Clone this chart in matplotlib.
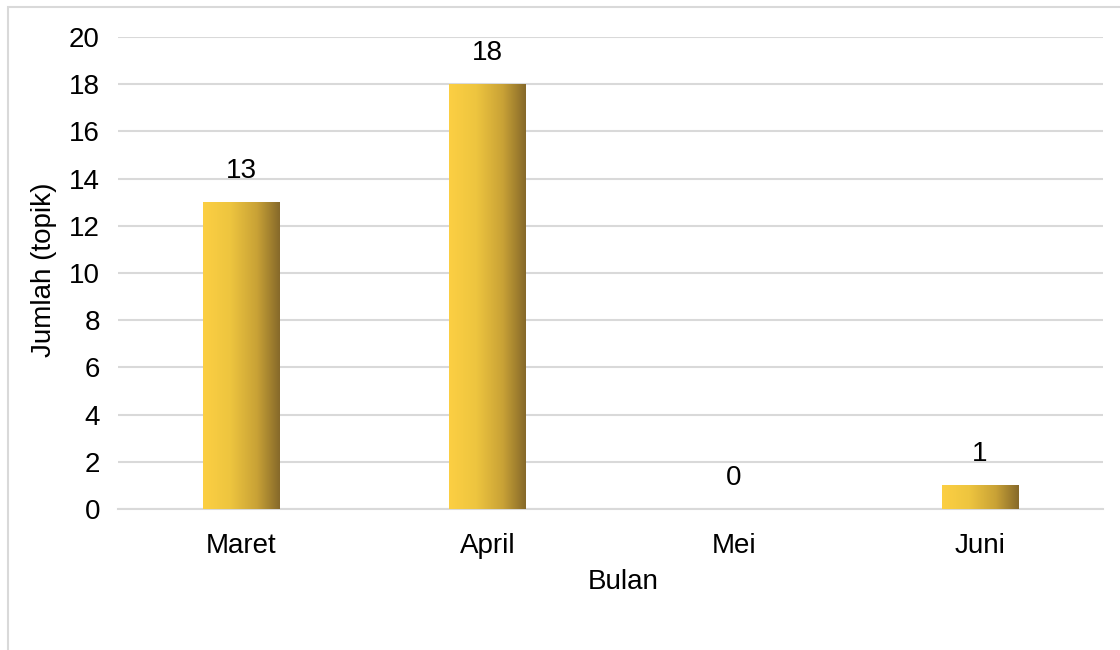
import numpy as np
import matplotlib.pyplot as plt
from matplotlib.colors import LinearSegmentedColormap
from matplotlib.patches import Rectangle

plt.rcParams['font.family'] = ['Liberation Sans', 'DejaVu Sans']

# data
bulan = ['Maret', 'April', 'Mei', 'Juni']
jumlah = [13, 18, 0, 1]
yticks = list(range(0, 21, 2))

fig = plt.figure(figsize=(11.2, 6.5), dpi=100)
ax = fig.add_axes([118 / 1120, 1 - 509 / 650, (1103 - 118) / 1120, (509 - 37) / 650])

# chart border (cut off at right and bottom like the original)
fig.patches.append(Rectangle((8 / 1120, -0.1), 2, 1 - 7 / 650 + 0.1,
                             transform=fig.transFigure, fill=False,
                             edgecolor='#D9D9D9', lw=1.5, zorder=0))

x = np.arange(len(bulan))
bars = ax.bar(x, jumlah, width=0.31, color='none', edgecolor='none', zorder=3)

# horizontal gold gradient on each bar
grad = LinearSegmentedColormap.from_list(
    'gold', [(0, '#FCCF43'), (0.35, '#EEC53F'), (0.7, '#C9A236'), (1, '#86692A')])
gimg = np.linspace(0, 1, 256).reshape(1, -1)
for b in bars:
    if b.get_height() <= 0:
        continue
    x0, y0 = b.get_x(), b.get_y()
    im = ax.imshow(gimg, cmap=grad, aspect='auto', zorder=3,
                   extent=[x0, x0 + b.get_width(), y0, y0 + b.get_height()])
    im.set_clip_path(b)

for xi, v in zip(x, jumlah):
    ax.annotate(str(v), (xi, v), xytext=(0, 13), textcoords='offset points',
                ha='center', va='bottom', fontsize=20, color='black')

ax.set_xlim(-0.5, len(bulan) - 0.5)
ax.set_ylim(0, 20)
ax.set_yticks(yticks)
ax.set_xticks(x)
ax.set_xticklabels(bulan)
ax.tick_params(axis='both', length=0, labelsize=20, colors='black')
ax.tick_params(axis='y', pad=13)
ax.tick_params(axis='x', pad=17)
ax.yaxis.grid(True, color='#D9D9D9', lw=1.5)
ax.set_axisbelow(True)
for s in ['top', 'right', 'left']:
    ax.spines[s].set_visible(False)
ax.spines['bottom'].set_color('#D9D9D9')
ax.spines['bottom'].set_linewidth(1.5)

ax.set_xlabel('Bulan', fontsize=20)
ax.set_ylabel('Jumlah (topik)', fontsize=20)
# label positions in axes fraction, from the reference's pixel layout
ax.xaxis.set_label_coords((623 - 118) / (1103 - 118), -(569 - 509) / (509 - 37))
ax.yaxis.set_label_coords(-(118 - 57) / (1103 - 118), (509 - 270) / (509 - 37))

fig.savefig('out.png', dpi=100)
